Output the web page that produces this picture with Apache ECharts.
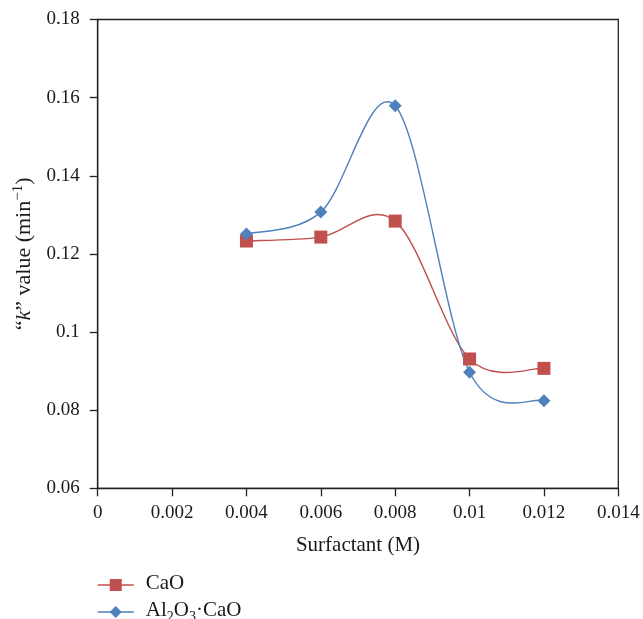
<!DOCTYPE html>
<html>
<head>
<meta charset="utf-8">
<script src="https://cdn.jsdelivr.net/npm/echarts@6/dist/echarts.min.js"></script>
<style>
html,body{margin:0;padding:0;background:#fff;}
#chart{width:643px;height:619px;}
</style>
</head>
<body>
<div id="chart"></div>
<script>
var surfactant = [0.004, 0.006, 0.008, 0.010, 0.012];
var caoValues = [0.1233, 0.1243, 0.1284, 0.0931, 0.0907];
var alcaoValues = [0.1251, 0.1307, 0.1579, 0.0897, 0.0824];
var xTicks = [0, 0.002, 0.004, 0.006, 0.008, 0.01, 0.012, 0.014];
var yTicks = [0.06, 0.08, 0.1, 0.12, 0.14, 0.16, 0.18];
var seriesNames = ['CaO', 'Al2O3·CaO'];
var seriesColors = ['#C0504D', '#4F81BD'];

function pairs(xs, ys) { return xs.map(function (x, i) { return [x, ys[i]]; }); }

var FONT = '"Liberation Serif", "DejaVu Serif", serif';
var TXT = '#1a1a1a';

// Smooth curve (Catmull-Rom style Bezier) drawn through the chart's own scales
function curveSeries(xs, ys, color) {
  return {
    type: 'custom', silent: true, z: 2, clip: false,
    data: pairs(xs, ys),
    renderItem: function (params, api) {
      var i = params.dataIndex;
      var n = xs.length;
      if (i >= n - 1) return null;
      function P(k) { k = Math.max(0, Math.min(n - 1, k)); return api.coord([xs[k], ys[k]]); }
      var p0 = P(i - 1), p1 = P(i), p2 = P(i + 1), p3 = P(i + 2);
      var t = 1 / 6;
      return {
        type: 'bezierCurve',
        shape: {
          x1: p1[0], y1: p1[1], x2: p2[0], y2: p2[1],
          cpx1: p1[0] + (p2[0] - p0[0]) * t, cpy1: p1[1] + (p2[1] - p0[1]) * t,
          cpx2: p2[0] - (p3[0] - p1[0]) * t, cpy2: p2[1] - (p3[1] - p1[1]) * t
        },
        style: { stroke: color, fill: null, lineWidth: 1.4 }
      };
    }
  };
}

function legendFor(name, top) {
  return {
    orient: 'vertical', left: 97, top: top, padding: 0,
    itemWidth: 36, itemHeight: 15,
    data: [name],
    lineStyle: { opacity: 1, width: 1.5 },
    formatter: function (n) {
      return n === 'Al2O3·CaO'
        ? '{p|}{a|Al}{s|2}{a|O}{s|3}{a|·CaO}'
        : '{p|}{a|' + n + '}';
    },
    textStyle: {
      fontFamily: FONT, fontSize: 21, color: TXT,
      rich: {
        p: { width: 7 },
        a: { fontFamily: FONT, fontSize: 21, color: TXT, verticalAlign: 'top', lineHeight: 24 },
        s: { fontFamily: FONT, fontSize: 14, color: TXT, verticalAlign: 'bottom', lineHeight: 16, padding: [10, 0, 0, 0] }
      }
    }
  };
}

var chart = echarts.init(document.getElementById('chart'));
chart.setOption({
  animation: false,
  backgroundColor: '#fff',
  textStyle: { fontFamily: FONT },
  grid: { left: 97.7, right: 24.7, top: 19.5, bottom: 130.7, show: true, borderColor: '#222', borderWidth: 1.3, backgroundColor: 'transparent' },
  legend: [legendFor(seriesNames[0], 573), legendFor(seriesNames[1], 600)],
  xAxis: {
    type: 'value', min: xTicks[0], max: xTicks[xTicks.length - 1], interval: 0.002,
    name: 'Surfactant (M)', nameLocation: 'middle', nameGap: 47,
    nameTextStyle: { fontFamily: FONT, fontSize: 21, color: TXT },
    axisLine: { show: true, lineStyle: { color: '#222', width: 1.3 } },
    axisTick: { show: true, inside: false, length: 8, lineStyle: { color: '#222', width: 1.3 } },
    axisLabel: { fontFamily: FONT, fontSize: 19, color: TXT, margin: 15,
      formatter: function (v) { return String(parseFloat(v.toFixed(3))); } },
    splitLine: { show: false }
  },
  yAxis: {
    type: 'value', min: yTicks[0], max: yTicks[yTicks.length - 1], interval: 0.02,
    name: '{a|“}{i|k}{a|” value (min}{s|−1}{a|)}', nameLocation: 'middle', nameGap: 59, nameRotate: 90,
    nameTextStyle: {
      fontFamily: FONT, fontSize: 22, color: TXT,
      rich: {
        a: { fontFamily: FONT, fontSize: 22, color: TXT, verticalAlign: 'bottom', lineHeight: 25 },
        i: { fontFamily: FONT, fontSize: 22, fontStyle: 'italic', color: TXT, verticalAlign: 'bottom', lineHeight: 25 },
        s: { fontFamily: FONT, fontSize: 15, color: TXT, verticalAlign: 'top', lineHeight: 15, padding: [0, 0, 10, 0] }
      }
    },
    axisLine: { show: true, lineStyle: { color: '#222', width: 1.3 } },
    axisTick: { show: true, inside: false, length: 8, lineStyle: { color: '#222', width: 1.3 } },
    axisLabel: { fontFamily: FONT, fontSize: 19, color: TXT, margin: 18,
      formatter: function (v) { return String(parseFloat(v.toFixed(3))); } },
    splitLine: { show: false }
  },
  series: [
    curveSeries(surfactant, caoValues, seriesColors[0]),
    curveSeries(surfactant, alcaoValues, seriesColors[1]),
    {
      name: seriesNames[0], type: 'line', data: pairs(surfactant, caoValues), z: 3,
      symbol: 'rect', symbolSize: 13,
      itemStyle: { color: seriesColors[0] },
      lineStyle: { color: seriesColors[0], width: 1.4, opacity: 0 }
    },
    {
      name: seriesNames[1], type: 'line', data: pairs(surfactant, alcaoValues), z: 4,
      symbol: 'diamond', symbolSize: [13, 13],
      itemStyle: { color: seriesColors[1] },
      lineStyle: { color: seriesColors[1], width: 1.4, opacity: 0 }
    }
  ]
});
</script>
</body>
</html>
